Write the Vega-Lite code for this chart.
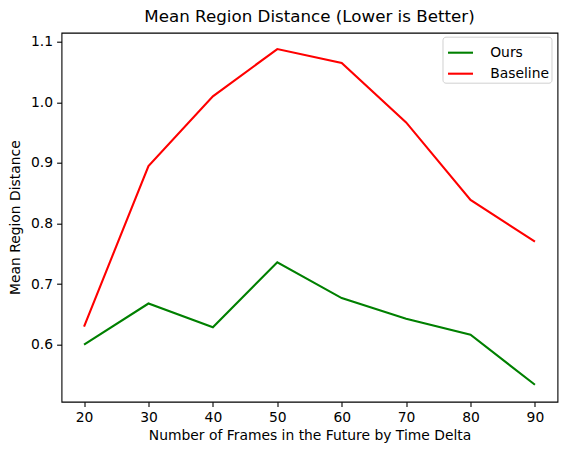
{
  "$schema": "https://vega.github.io/schema/vega-lite/v6.json",
  "width": 496,
  "height": 369,
  "autosize": {"type": "none"},
  "padding": {"left": 61.5, "top": 32.7, "right": 10, "bottom": 53},
  "background": "white",
  "config": {
    "font": "DejaVu Sans",
    "view": {"stroke": "black", "strokeWidth": 1.1},
    "axis": {
      "grid": false,
      "domain": false,
      "tickColor": "black",
      "tickSize": 4.9,
      "tickWidth": 1.1,
      "labelPadding": 4,
      "labelFontSize": 13.9,
      "labelColor": "black",
      "labelFont": "DejaVu Sans",
      "titleFont": "DejaVu Sans",
      "titleFontSize": 13.9,
      "titleFontWeight": "normal",
      "titleColor": "black"
    }
  },
  "title": {
    "text": "Mean Region Distance (Lower is Better)",
    "fontSize": 16.7,
    "fontWeight": "normal",
    "font": "DejaVu Sans",
    "color": "black",
    "offset": 7,
    "anchor": "middle"
  },
  "data": {
    "values": [
      {"frames": 20, "series": "Ours", "distance": 0.600},
      {"frames": 30, "series": "Ours", "distance": 0.668},
      {"frames": 40, "series": "Ours", "distance": 0.629},
      {"frames": 50, "series": "Ours", "distance": 0.736},
      {"frames": 60, "series": "Ours", "distance": 0.677},
      {"frames": 70, "series": "Ours", "distance": 0.643},
      {"frames": 80, "series": "Ours", "distance": 0.6165},
      {"frames": 90, "series": "Ours", "distance": 0.534},
      {"frames": 20, "series": "Baseline", "distance": 0.630},
      {"frames": 30, "series": "Baseline", "distance": 0.895},
      {"frames": 40, "series": "Baseline", "distance": 1.010},
      {"frames": 50, "series": "Baseline", "distance": 1.088},
      {"frames": 60, "series": "Baseline", "distance": 1.065},
      {"frames": 70, "series": "Baseline", "distance": 0.967},
      {"frames": 80, "series": "Baseline", "distance": 0.839},
      {"frames": 90, "series": "Baseline", "distance": 0.770}
    ]
  },
  "mark": {"type": "line", "strokeWidth": 2.1, "clip": true},
  "encoding": {
    "x": {
      "field": "frames",
      "type": "quantitative",
      "title": "Number of Frames in the Future by Time Delta",
      "scale": {"domain": [16.5, 93.5], "nice": false, "zero": false},
      "axis": {"values": [20, 30, 40, 50, 60, 70, 80, 90], "titlePadding": 4}
    },
    "y": {
      "field": "distance",
      "type": "quantitative",
      "title": "Mean Region Distance",
      "scale": {"domain": [0.506, 1.115], "nice": false, "zero": false},
      "axis": {"values": [0.6, 0.7, 0.8, 0.9, 1.0, 1.1], "format": ".1f", "titlePadding": 8}
    },
    "color": {
      "field": "series",
      "type": "nominal",
      "scale": {"domain": ["Ours", "Baseline"], "range": ["#008000", "#ff0000"]},
      "legend": {
        "title": null,
        "orient": "none",
        "legendX": 381,
        "legendY": 4,
        "direction": "vertical",
        "symbolType": "stroke",
        "symbolSize": 625,
        "symbolOffset": 2,
        "symbolStrokeWidth": 2.1,
        "labelFontSize": 13.9,
        "labelFont": "DejaVu Sans",
        "labelColor": "black",
        "labelOffset": 15.7,
        "rowPadding": -5,
        "padding": 2,
        "fillColor": "white",
        "strokeColor": "#d0d0d0",
        "cornerRadius": 3
      }
    }
  }
}
